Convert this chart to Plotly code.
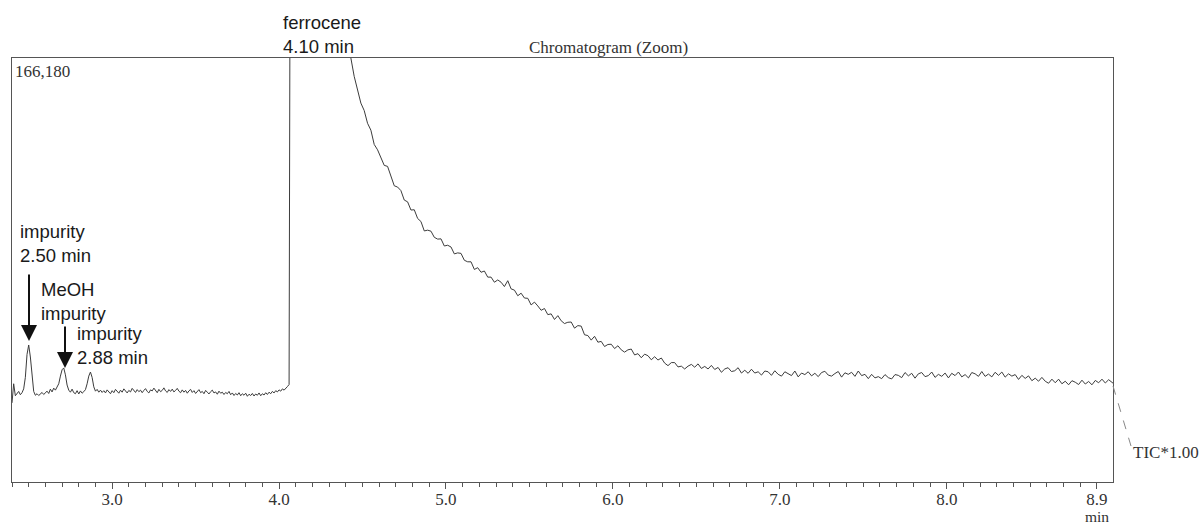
import numpy as np
import plotly.graph_objects as go

# ---------------- data ----------------
# segment 1: 2.40 .. 4.07 min, sampled every 0.01 min (TIC counts)
seg1_start = 2.40
seg1_step = 0.01
seg1_counts = [
    31000, 38500, 33800, 34500, 35500, 34200, 35000, 36500, 41000, 50000,
    53700, 49000, 40500, 35500, 34000, 34600, 33900, 34400, 35100, 34300,
    35000, 35600, 34700, 36400, 35300, 36800, 36000, 37200, 38500, 41500,
    44000, 44700, 42000, 38000, 36000, 35200, 36400, 35000, 34600, 35800,
    34500, 35700, 34800, 35400, 36200, 38500, 41500, 43100, 41000, 37300,
    35600, 36300, 35200, 36000, 35100, 35800, 34900, 36100, 35300, 34600,
    35800, 35000, 36300, 35500, 34800, 36000, 35200, 36500, 35600, 34900,
    35900, 35300, 36700, 35800, 35100, 36200, 35400, 36000, 35000, 35900,
    36600, 35500, 34900, 36100, 35700, 36800, 35600, 35000, 36300, 35400,
    35900, 36900, 35700, 35100, 36200, 35500, 36400, 35300, 35900, 36700,
    35600, 35000, 36100, 35200, 35900, 34800, 35700, 36300, 35100, 35800,
    34700, 35600, 36200, 35000, 35500, 34600, 35900, 35200, 34500, 35400,
    36000, 34900, 35300, 34400, 35600, 34800, 35200, 34300, 35100, 34600,
    35500, 34200, 34900, 33900, 34700, 34100, 35000, 33800, 34600, 34000,
    34800, 33600, 34400, 33900, 34700, 33700, 34500, 34000, 34900, 33800,
    34600, 34100, 35000, 34300, 35200, 34600, 35500, 34900, 35800, 35300,
    36100, 35600, 36500, 36000, 36900, 37400, 38200, 320000,
]

# segment 2: 4.09 .. 9.01 min, sampled every 0.02 min (TIC counts)
seg2_start = 4.09
seg2_step = 0.02
seg2_counts = [
    1400000, 1450000, 1100000, 800000, 600000, 480000, 400000, 340000, 300000, 270000,
    248000, 230000, 215000, 203000, 193000, 184000, 176000,
    166200, 159000, 154200, 148500, 145600, 140600, 137900, 132300, 130200, 126900,
    124100, 123700, 119800, 116100, 115600, 114200, 110500, 109800, 106600, 106700,
    103300, 102100, 98400, 98700, 98300, 95900, 95200, 95300, 92500, 92800,
    92100, 89400, 89800, 89600, 86900, 86300, 86300, 83300, 84000, 82200,
    82700, 80300, 80300, 78300, 79200, 78300, 76600, 78900, 75700, 75200,
    73000, 74000, 72100, 72000, 69400, 70500, 69000, 67300, 68000, 65600,
    65900, 63700, 65200, 63200, 62100, 62600, 62700, 60300, 61300, 61100,
    57700, 57400, 55600, 57100, 54800, 55100, 53100, 53900, 54000, 52300,
    53400, 51800, 50900, 51800, 52100, 49800, 50300, 48700, 50100, 49500,
    47900, 49100, 47800, 48600, 46600, 45600, 46800, 46800, 45100, 45400,
    44300, 45400, 46100, 45000, 46300, 44500, 45300, 44300, 45700, 44100,
    44900, 43000, 44300, 44800, 43300, 43600, 44800, 42700, 43800, 42600,
    44200, 42700, 43200, 41900, 43500, 43200, 41800, 43600, 42200, 41500,
    43200, 42500, 41700, 43500, 41200, 42700, 42100, 43200, 41600, 42600,
    41300, 42900, 43400, 41900, 41500, 42500, 43300, 41100, 42800, 42200,
    43000, 41400, 43500, 41700, 42200, 40500, 42200, 40800, 41300, 40500,
    42100, 40900, 40400, 42100, 41800, 40900, 42900, 41600, 42600, 40700,
    42400, 42900, 41300, 41700, 43100, 41000, 42200, 41400, 42700, 40800,
    42600, 41700, 43100, 41200, 42100, 40800, 42900, 42400, 41400, 43300,
    41400, 42300, 41200, 43000, 41800, 43100, 41100, 42400, 41500, 42100,
    40200, 41800, 40600, 41600, 39700, 40700, 39500, 41000, 39500, 38700,
    40300, 38900, 40300, 38500, 39500, 38100, 39700, 39100, 38200, 39900,
    38400, 39400, 38100, 39800, 38900, 40300, 38800, 40100, 39100, 38000,
]

full_scale = 166180
x_range = [2.40, 8.996]
tick_vals = [3.0, 4.0, 5.0, 6.0, 7.0, 8.0, 8.9]
tick_text = ["3.0", "4.0", "5.0", "6.0", "7.0", "8.0", "8.9"]

# ---------------- build ----------------
t1 = seg1_start + seg1_step * np.arange(len(seg1_counts))
t2 = seg2_start + seg2_step * np.arange(len(seg2_counts))
time_min = np.concatenate([t1, t2])
tic = np.array(seg1_counts + seg2_counts, dtype=float)

W, H = 1203, 526
L, R, T, B = 12, 1113, 58, 482


def px(x):
    return (x - L) / (R - L)


def py(y):
    return (B - y) / (B - T)


fig = go.Figure()
fig.add_trace(go.Scatter(
    x=time_min, y=tic, mode="lines",
    line=dict(color="#3c3c3c", width=1),
    hoverinfo="skip", showlegend=False,
))

serif = "Liberation Serif"
sans = "Liberation Sans"
txt_serif = dict(family=serif, size=17, color="#333333")
txt_sans = dict(family=sans, size=18.5, color="#1a1a1a")

ann = []
ann.append(dict(text="Chromatogram (Zoom)", x=px(608), y=py(48), xref="paper", yref="paper",
                xanchor="center", yanchor="middle", showarrow=False, font=txt_serif))
ann.append(dict(text="166,180", x=px(13), y=py(71), xref="paper", yref="paper",
                xanchor="left", yanchor="middle", showarrow=False, font=txt_serif))
ann.append(dict(text="min", x=px(1097), y=py(526), xref="paper", yref="paper",
                xanchor="center", yanchor="bottom", showarrow=False, borderpad=0,
                font=dict(family=serif, size=15.5, color="#333333")))
ann.append(dict(text="TIC*1.00", x=px(1131), y=py(452), xref="paper", yref="paper",
                xanchor="left", yanchor="middle", showarrow=False, font=txt_serif))
ann.append(dict(text="ferrocene<br>4.10 min", x=px(281), y=py(34), xref="paper", yref="paper",
                xanchor="left", yanchor="middle", showarrow=False, align="left", font=txt_sans))
ann.append(dict(text="impurity<br>2.50 min", x=px(18), y=py(243), xref="paper", yref="paper",
                xanchor="left", yanchor="middle", showarrow=False, align="left", font=txt_sans))
ann.append(dict(text="MeOH<br>impurity", x=px(39), y=py(301), xref="paper", yref="paper",
                xanchor="left", yanchor="middle", showarrow=False, align="left", font=txt_sans))
ann.append(dict(text="impurity<br>2.88 min", x=px(75), y=py(345), xref="paper", yref="paper",
                xanchor="left", yanchor="middle", showarrow=False, align="left", font=txt_sans))
# arrows
ann.append(dict(text="", x=px(29), y=py(341), xref="paper", yref="paper",
                showarrow=True, ax=0, ay=-68, arrowhead=2, arrowsize=1.6,
                arrowwidth=2, arrowcolor="#111111", standoff=0))
ann.append(dict(text="", x=px(65), y=py(368), xref="paper", yref="paper",
                showarrow=True, ax=0, ay=-43, arrowhead=2, arrowsize=1.6,
                arrowwidth=2, arrowcolor="#111111", standoff=0))

shapes = [dict(type="line", xref="paper", yref="paper",
               x0=px(1113), y0=py(386), x1=px(1131), y1=py(446),
               line=dict(color="#888888", width=1, dash="dash"))]

fig.update_layout(
    width=W, height=H,
    margin=dict(l=L, r=W - R, t=T, b=H - B, pad=0, autoexpand=False),
    paper_bgcolor="white", plot_bgcolor="white",
    annotations=ann, shapes=shapes,
    showlegend=False,
    xaxis=dict(
        range=x_range, tickmode="array", tickvals=tick_vals, ticktext=tick_text,
        automargin=False,
        ticks="outside", ticklen=6, tickwidth=1, tickcolor="#555555",
        ticklabelstandoff=-4,
        showline=True, linecolor="#555555", linewidth=1, mirror=True,
        showgrid=False, zeroline=False,
        tickfont=dict(family=serif, size=17, color="#333333"),
        minor=dict(ticks="outside", ticklen=4, tickwidth=1, tickcolor="#555555",
                   tickmode="linear", tick0=0, dtick=0.1, showgrid=False),
    ),
    yaxis=dict(
        range=[0, full_scale], showticklabels=False, ticks="",
        automargin=False,
        showline=True, linecolor="#555555", linewidth=1, mirror=True,
        showgrid=False, zeroline=False,
    ),
)

fig.write_html("out.html")
